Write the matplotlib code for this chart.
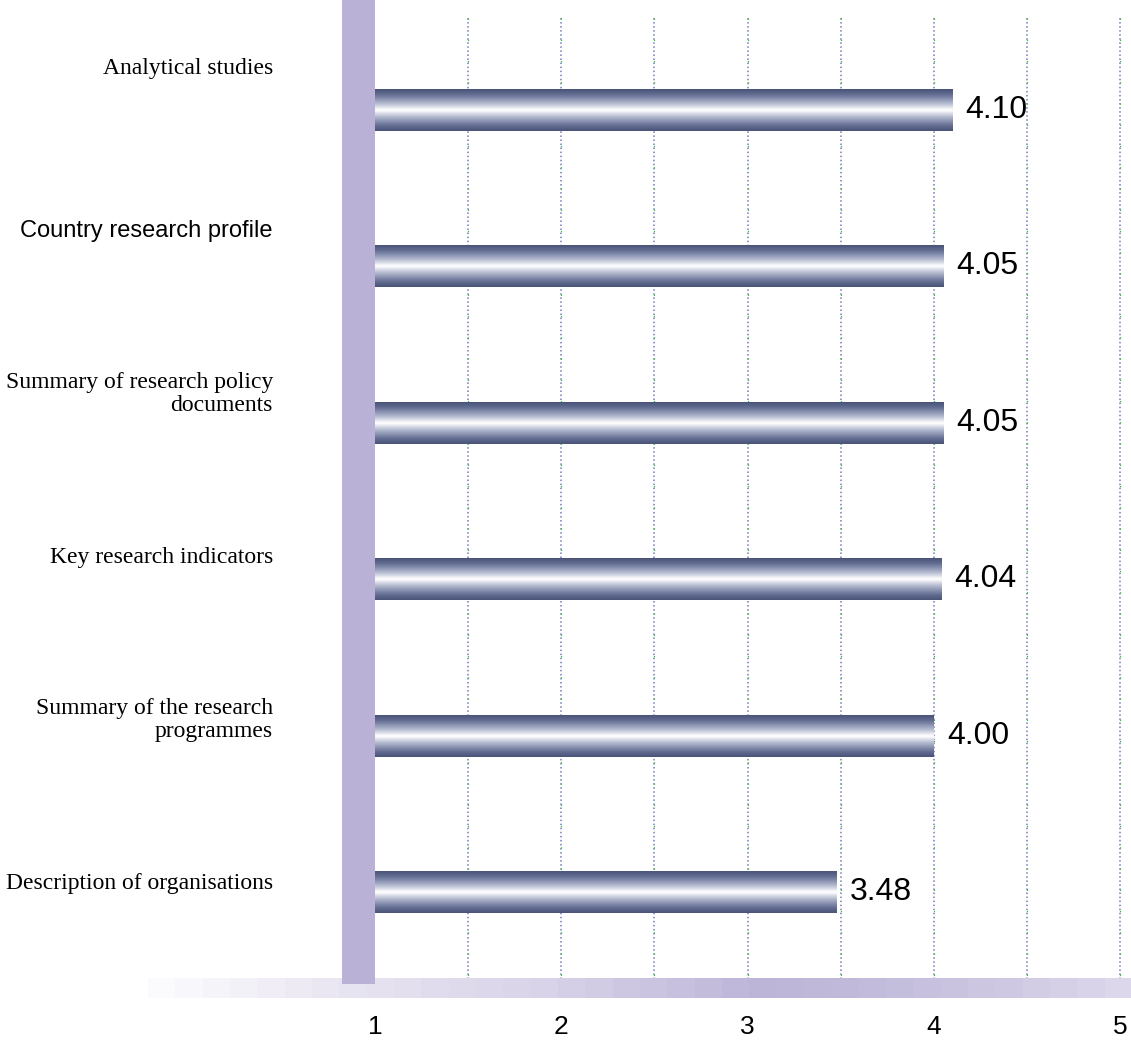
import numpy as np
import matplotlib
matplotlib.use("Agg")
import matplotlib.pyplot as plt
from matplotlib.colors import LinearSegmentedColormap

# data, top to bottom
categories = ["Analytical studies", "Country research profile",
              "Summary of research policy\ndocuments", "Key research indicators",
              "Summary of the research\nprogrammes", "Description of organisations"]
label_fonts = ["Liberation Serif", "Liberation Sans", "Liberation Serif",
               "Liberation Serif", "Liberation Serif", "Liberation Serif"]
values = [4.10, 4.05, 4.05, 4.04, 4.00, 3.48]
value_text = ["4.10", "4.05", "4.05", "4.04", "4.00", "3.48"]
xticks = [1, 2, 3, 4, 5]

W, H = 1131, 1046
fig = plt.figure(figsize=(W / 100, H / 100), dpi=100)
ax = fig.add_axes([0, 1 - 998 / H, 1, 998 / H])
ax.set_xlim(-1.0134, 5.059)
ax.set_ylim(5.678, -0.703)
for s in ax.spines.values():
    s.set_visible(False)
ax.set_yticks([])
ax.set_xticks(xticks)
ax.set_xticklabels([str(t) for t in xticks], fontsize=19, family="Liberation Sans")
ax.tick_params(axis="x", length=0, pad=12)

wall_col = "#bab2d6"

# gridlines every half unit
grid_x = np.arange(1.5, 5.01, 0.5)
ax.vlines(grid_x, -0.588, 5.556, colors="#6f7cbc", linestyles=":", lw=1.1, zorder=1)
ax.vlines(grid_x, -0.588, 5.556, colors="#30c030", lw=0.9, zorder=1,
          linestyles=[(0, (1, 16))])

# floor gradient (banded)
fl = [(0.00, "#fbfafd"), (0.22, "#e6e2f0"), (0.40, "#d8d3e8"),
      (0.63, "#bdb5d8"), (0.75, "#c3bcdc"), (0.88, "#cec8e3"), (1.00, "#dcd7ea")]
floor_cmap = LinearSegmentedColormap.from_list("floor", fl, N=256)
steps = np.linspace(0, 1, 36).reshape(1, -1)
ax.imshow(steps, extent=[-0.219, 5.059, 5.678, 5.556], aspect="auto",
          cmap=floor_cmap, interpolation="nearest", zorder=2)

# left wall
ax.fill_between([0.823, 1.0], -0.703, 5.588, color=wall_col, lw=0, zorder=3)

# bars with vertical metallic gradient
pos = np.arange(len(values))
bar_h = 0.2685
bars = ax.barh(pos, np.array(values) - 1, left=1, height=bar_h,
               color="none", edgecolor="none", zorder=4)
bar_cmap = LinearSegmentedColormap.from_list(
    "bar", [(0.0, "#4a5479"), (0.25, "#646e93"), (0.55, "#9aa2bd"),
            (0.8, "#cfd3e1"), (0.92, "#f0f1f6"), (1.0, "#ffffff")])
t = np.linspace(-1, 1, 64)
grad = (1 - np.abs(t)).reshape(-1, 1)
for b in bars:
    x0, y0, bw, bh = b.get_x(), b.get_y(), b.get_width(), b.get_height()
    im = ax.imshow(grad, extent=[x0, x0 + bw, y0 + bh, y0], aspect="auto",
                   cmap=bar_cmap, vmin=0, vmax=1, interpolation="bilinear", zorder=5)
    im.set_clip_path(b)

# value labels
for p, v, txt in zip(pos, values, value_text):
    ax.text(v + 0.07, p, txt, ha="left", va="center", fontsize=23,
            family="Liberation Sans", color="black", zorder=6)

# category labels (staggered slightly from the bars)
for p, name, fam in zip(pos, categories, label_fonts):
    ax.text(0.452, p * 1.042 - 0.267, name, ha="right", va="center",
            fontsize=17, family=fam, color="black", linespacing=1.1)

fig.savefig("out.png", dpi=100)
